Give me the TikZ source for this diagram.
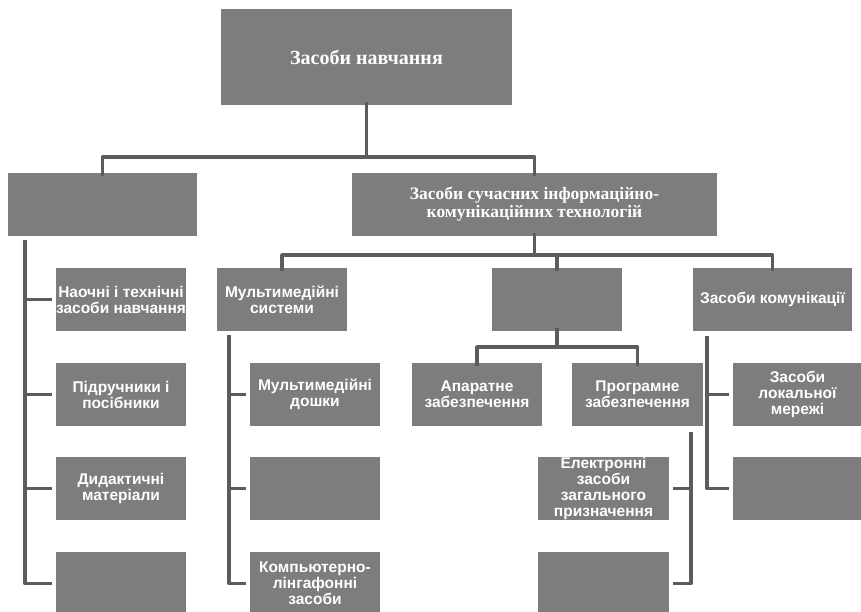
\documentclass[tikz,border=0pt]{standalone}
\usepackage{fontspec}
\setmainfont{Liberation Serif}
\setsansfont{Liberation Sans}
\definecolor{boxgray}{RGB}{125,125,125}
\definecolor{linegray}{RGB}{92,92,92}
\tikzset{
  base/.style={fill=boxgray, text=white, inner sep=0pt, anchor=center, align=center},
  serifbox/.style={base, font=\rmfamily\bfseries\fontsize{17.5}{18}\selectfont},
  sansbox/.style={base, font=\sffamily\bfseries\fontsize{15.5}{16}\selectfont, minimum height=63pt},
  conn/.style={draw=linegray, line width=3.8pt, line join=round},
}
\begin{document}
\begin{tikzpicture}[x=1pt, y=-1pt]
\useasboundingbox (0,0) rectangle (861,611);
% level 0
\node[serifbox, font=\rmfamily\bfseries\fontsize{20}{22}\selectfont, minimum width=291pt, minimum height=96pt] (top) at (366.5,57) {Засоби навчання};
% level 1
\node[serifbox, minimum width=189pt, minimum height=63pt] (la) at (102.5,204.5) {};
\node[serifbox, minimum width=365pt, minimum height=63pt] (lb) at (534.5,204.5) {Засоби сучасних інформаційно-\\комунікаційних технологій};
% level 2
\node[sansbox, minimum width=130pt] (mm) at (282,299.5) {Мультимедійні\\системи};
\node[sansbox, minimum width=130pt] (mid) at (557,299.5) {};
\node[sansbox, minimum width=159pt] (kom) at (772.5,299.5) {Засоби комунікації};
% left column
\node[sansbox, minimum width=130pt] (c1) at (121,299.5) {Наочні і технічні\\засоби навчання};
\node[sansbox, minimum width=130pt] (c2) at (121,394.5) {Підручники і\\посібники};
\node[sansbox, minimum width=130pt] (c3) at (121,488.5) {Дидактичні\\матеріали};
\node[sansbox, minimum width=130pt] (c4) at (121,583.5) {};
% multimedia column
\node[sansbox, minimum width=130pt] (m1) at (315,394.5) {Мультимедійні\\дошки};
\node[sansbox, minimum width=130pt] (m2) at (315,488.5) {};
\node[sansbox, minimum width=130pt] (m3) at (315,583.5) {Компьютерно-\\лінгафонні\\засоби};
% middle
\node[sansbox, minimum width=130pt] (ap) at (477,394.5) {Апаратне\\забезпечення};
\node[sansbox, minimum width=131pt] (pr) at (637.5,394.5) {Програмне\\забезпечення};
\node[sansbox, minimum width=131pt] (p1) at (603.5,488.5) {Електронні\\засоби\\загального\\призначення};
\node[sansbox, minimum width=131pt] (p2) at (603.5,583.5) {};
% communication
\node[sansbox, minimum width=129pt] (k1) at (797.5,394.5) {Засоби\\локальної\\мережі};
\node[sansbox, minimum width=129pt] (k2) at (797.5,488.5) {};

% bus coordinates
\coordinate (b0) at (0,157);
\coordinate (b1) at (0,255);
\coordinate (b2) at (0,347);
\coordinate (cl) at (25,240);
\coordinate (cm) at (229,335);
\coordinate (cp) at (691,432);
\coordinate (ck) at (707,336);

% top connectors
\draw[conn] ([yshift=3pt]top.south) -- (top.south |- b0);
\draw[conn] ([yshift=-3pt]la.north) |- (b0 -| lb.north) -- ([yshift=-3pt]lb.north);
% level 1 -> 2
\draw[conn] ([yshift=3pt]lb.south) -- (lb.south |- b1);
\draw[conn] ([yshift=-3pt]mm.north) |- (b1 -| kom.north) -- ([yshift=-3pt]kom.north);
\draw[conn] (b1 -| mid.north) -- ([yshift=-3pt]mid.north);
% mid -> ap, pr
\draw[conn] ([yshift=3pt]mid.south) -- (mid.south |- b2);
\draw[conn] ([yshift=-3pt]ap.north) |- (b2 -| pr.north) -- ([yshift=-3pt]pr.north);
% left column
\draw[conn] (cl) |- ([xshift=-4pt]c4.west);
\draw[conn] (cl |- c1.west) -- ([xshift=-4pt]c1.west);
\draw[conn] (cl |- c2.west) -- ([xshift=-4pt]c2.west);
\draw[conn] (cl |- c3.west) -- ([xshift=-4pt]c3.west);
% multimedia column
\draw[conn] (cm) |- ([xshift=-4pt]m3.west);
\draw[conn] (cm |- m1.west) -- ([xshift=-4pt]m1.west);
\draw[conn] (cm |- m2.west) -- ([xshift=-4pt]m2.west);
% program column
\draw[conn] (cp) |- ([xshift=4pt]p2.east);
\draw[conn] (cp |- p1.east) -- ([xshift=4pt]p1.east);
% communication column
\draw[conn] (ck) |- ([xshift=-4pt]k2.west);
\draw[conn] (ck |- k1.west) -- ([xshift=-4pt]k1.west);
\end{tikzpicture}
\end{document}
